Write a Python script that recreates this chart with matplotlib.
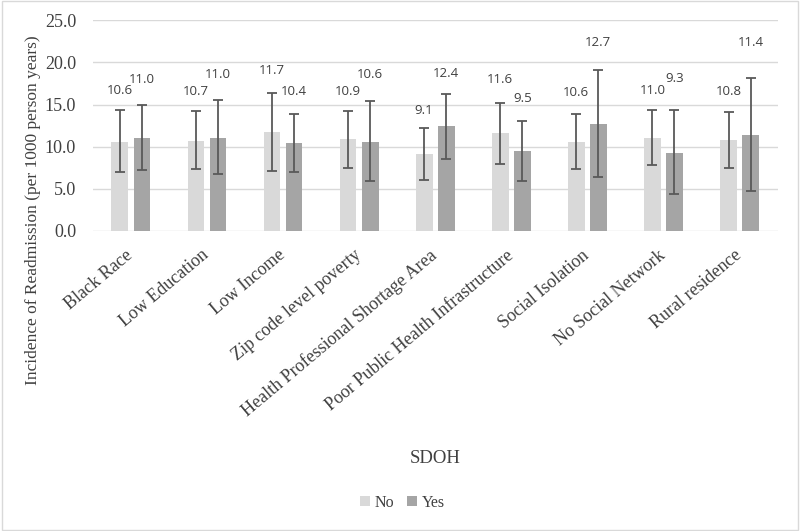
import matplotlib.pyplot as plt
import numpy as np
from matplotlib.patches import Rectangle

categories = ["Black Race", "Low Education", "Low Income", "Zip code level poverty",
              "Health Professional Shortage Area", "Poor Public Health Infrastructure",
              "Social Isolation", "No Social Network", "Rural residence"]
no_vals = [10.6, 10.7, 11.7, 10.9, 9.1, 11.6, 10.6, 11.0, 10.8]
yes_vals = [11.0, 11.0, 10.4, 10.6, 12.4, 9.5, 12.7, 9.3, 11.4]
no_low = [7.0, 7.3, 7.1, 7.5, 6.1, 8.0, 7.3, 7.8, 7.5]
no_high = [14.3, 14.2, 16.4, 14.2, 12.2, 15.2, 13.9, 14.4, 14.1]
yes_low = [7.2, 6.7, 7.0, 5.9, 8.5, 5.9, 6.4, 4.4, 4.8]
yes_high = [14.9, 15.5, 13.9, 15.4, 16.2, 13.1, 19.1, 14.4, 18.1]

# where the value labels sit (Excel-placed, in data units)
no_lbl_y = [16.7, 16.5, 19.0, 16.5, 14.3, 18.0, 16.4, 16.7, 16.5]
yes_lbl_y = [18.0, 18.5, 16.5, 18.5, 18.7, 15.7, 22.4, 18.1, 22.3]

c_no = "#d9d9d9"
c_yes = "#a5a5a5"
c_err = "#595959"
c_txt = "#404040"
serif = "Liberation Serif"
sans = "Open Sans"

fig = plt.figure(figsize=(8, 5.31), dpi=100)
fig.patches.append(Rectangle((0.002, 0.002), 0.996, 0.996, transform=fig.transFigure,
                             fill=False, edgecolor="#d9d9d9", linewidth=1))
ax = fig.add_axes([0.116, 0.565, 0.856, 0.397])

x = np.arange(len(categories))
w = 0.22
off = 0.145
no_v = np.array(no_vals)
yes_v = np.array(yes_vals)
no_err = [no_v - np.array(no_low), np.array(no_high) - no_v]
yes_err = [yes_v - np.array(yes_low), np.array(yes_high) - yes_v]

ax.bar(x - off, no_v, w, color=c_no, label="No", zorder=2)
ax.bar(x + off, yes_v, w, color=c_yes, label="Yes", zorder=2)
ax.errorbar(x - off, no_v, yerr=no_err, fmt="none", ecolor=c_err, elinewidth=1.3,
            capsize=3.5, capthick=1.3, zorder=3)
ax.errorbar(x + off, yes_v, yerr=yes_err, fmt="none", ecolor=c_err, elinewidth=1.3,
            capsize=3.5, capthick=1.3, zorder=3)

for i in range(len(categories)):
    ax.text(x[i] - off, no_lbl_y[i], f"{no_vals[i]:.1f}", ha="center", va="center",
            fontsize=9.5, color=c_txt, family=sans)
    ax.text(x[i] + off, yes_lbl_y[i], f"{yes_vals[i]:.1f}", ha="center", va="center",
            fontsize=9.5, color=c_txt, family=sans)

ax.set_xlim(-0.5, len(categories) - 0.5)
ax.set_ylim(0, 25)
ax.set_yticks(np.arange(0, 26, 5))
ax.set_yticklabels([f"{v:.1f}" for v in np.arange(0, 26, 5)], family=serif,
                   fontsize=13, color=c_txt)
ax.set_xticks(x)
ax.set_xticklabels(categories, rotation=40, ha="right", va="center",
                   rotation_mode="anchor", family=serif, fontsize=13, color=c_txt)
ax.tick_params(axis="both", length=0)
ax.tick_params(axis="x", pad=16)
ax.tick_params(axis="y", pad=12)
ax.grid(axis="y", color="#d9d9d9", linewidth=1, zorder=0)
for s in ax.spines.values():
    s.set_visible(False)

fig.text(0.041, 0.605, "Incidence of Readmission (per 1000 person years)", rotation=90,
         ha="center", va="center", family=serif, fontsize=12.5, color=c_txt)
fig.text(0.544, 0.136, "SDOH", ha="center", va="center", family=serif,
         fontsize=13.5, color=c_txt)
fig.legend(loc="center", bbox_to_anchor=(0.503, 0.053), ncol=2, frameon=False,
           prop={"family": serif, "size": 11.5}, handlelength=0.6, handleheight=0.6,
           handletextpad=0.3, columnspacing=0.8, labelcolor=c_txt)

fig.savefig("out.png", dpi=100)
